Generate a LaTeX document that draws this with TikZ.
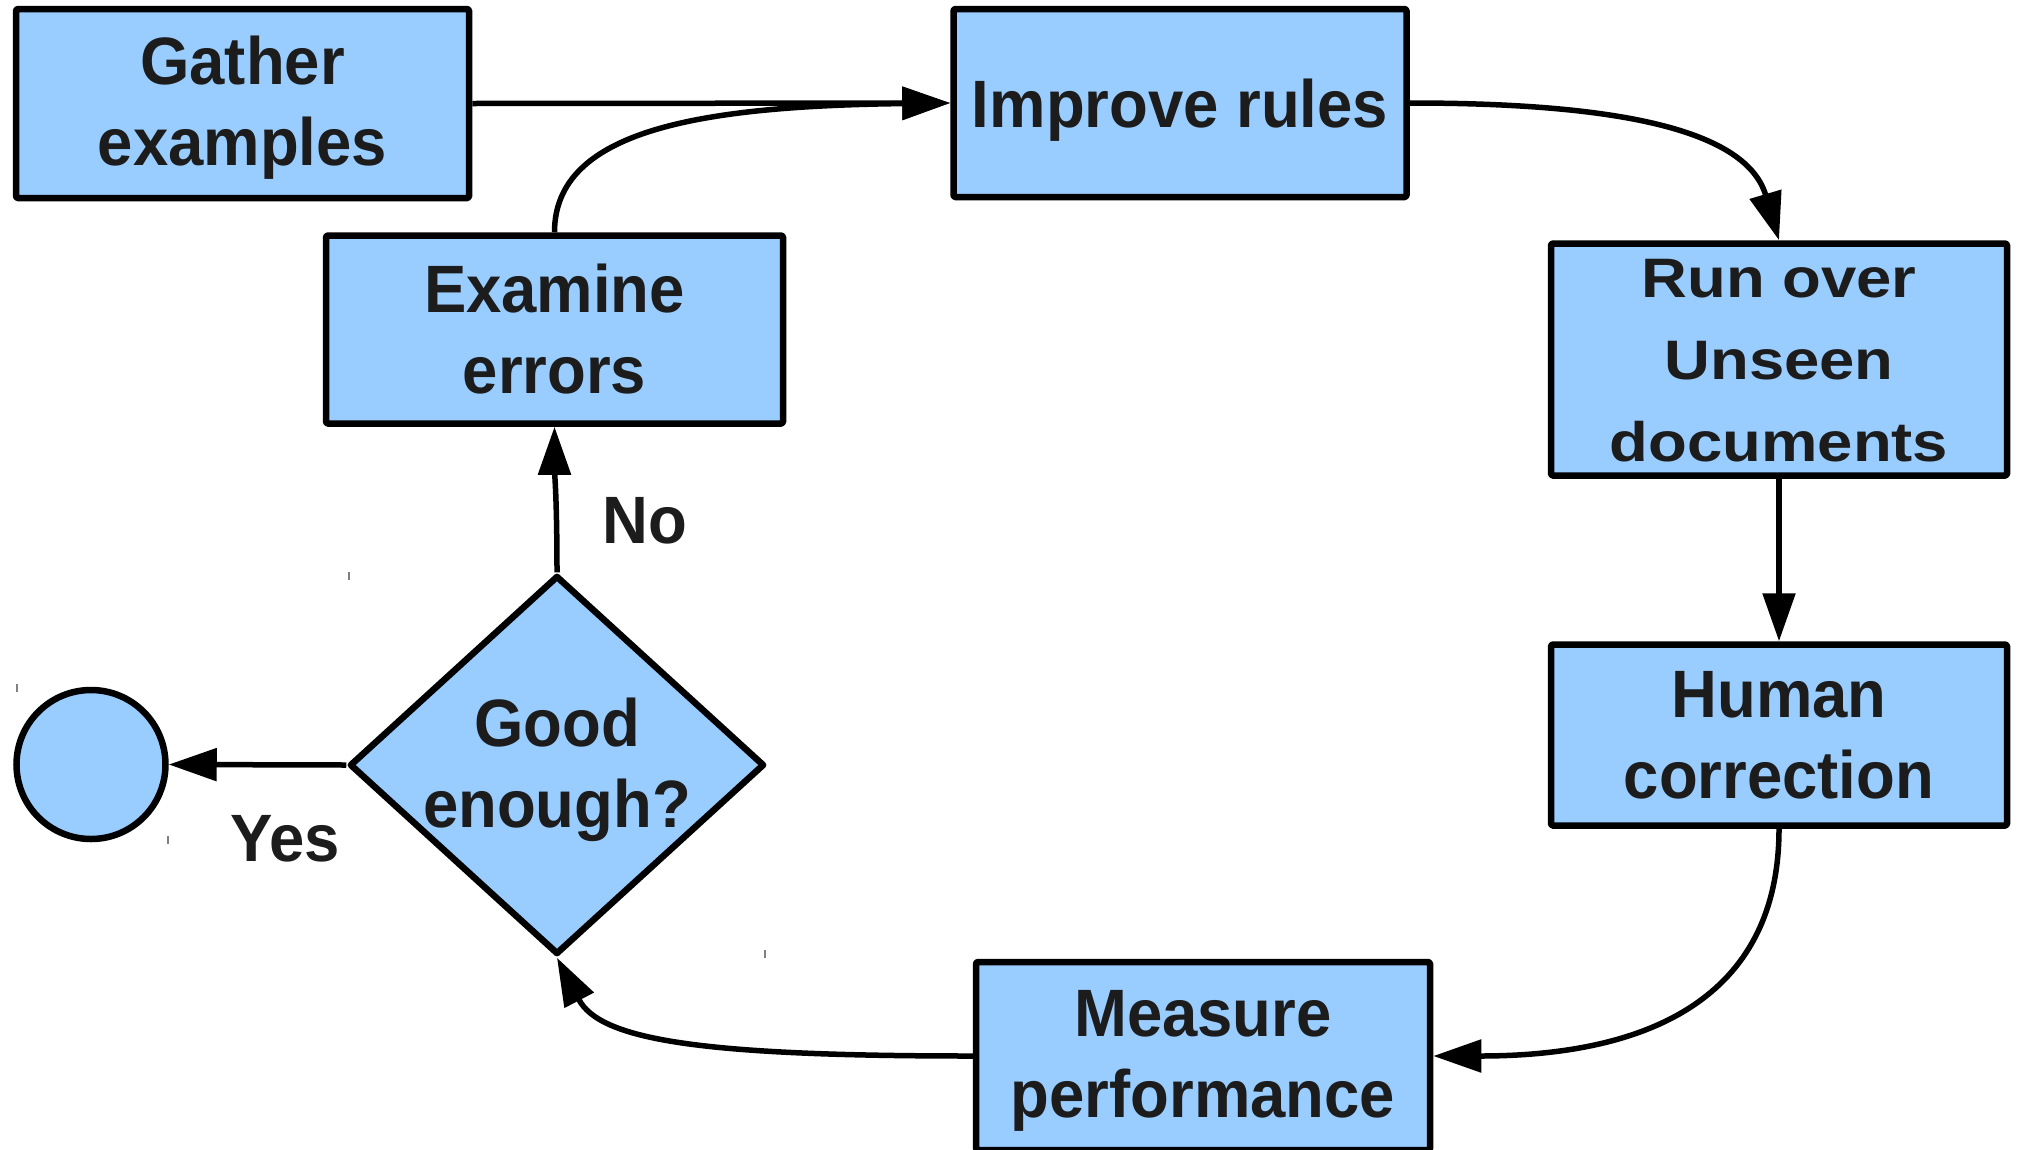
\documentclass[tikz,border=0pt]{standalone}
\usepackage{fontspec}
\setmainfont{Liberation Sans}[FakeStretch=0.947]
\usepackage{graphicx}
\usetikzlibrary{arrows.meta,shapes.geometric}
\definecolor{boxblue}{HTML}{99CCFF}
\definecolor{ink}{HTML}{1C1C1C}
\begin{document}
\begin{tikzpicture}[x=1pt,y=-1pt,
  box/.style={draw=black, fill=boxblue, line width=6.5pt, line join=round,
    rounded corners=1.5pt, rectangle, inner sep=0pt, align=center, text=ink,
    font=\fontsize{67pt}{81pt}\selectfont\bfseries},
  txt/.style={inner sep=0pt, align=center, text=ink,
    font=\fontsize{67pt}{81pt}\selectfont\bfseries},
  conn/.style={line width=5.5pt, line join=round, -{Triangle[length=48pt,width=32pt]}},
  tickmark/.style={draw=gray, line width=1.2pt}
]
\useasboundingbox (0,0) rectangle (2018,1149);

% boxes
\node[box, minimum width=453pt, minimum height=189pt] (gather) at (242.5,103.5) {};
\node[txt] (gathertxt) at (242.5,107.5) {Gather\\examples};
\node[box, minimum width=453pt, minimum height=188pt, text depth=0pt] (improve) at (1180,103) {Improve rules};
\node[box, minimum width=457pt, minimum height=188pt] (examine) at (554.5,329.5) {Examine\\errors};
\node[box, minimum width=456pt, minimum height=232pt] (runover) at (1779,359.5) {};
\node[txt] (runovertxt) at (1779,363) {\scalebox{1}[0.83]{\fontsize{67pt}{99pt}\selectfont\bfseries\begin{tabular}{@{}c@{}}Run over\\Unseen\\documents\end{tabular}}};
\node[box, minimum width=456pt, minimum height=181pt] (human) at (1779,735) {Human\\correction};
\node[box, minimum width=454pt, minimum height=188pt] (measure) at (1203,1056) {};
\node[txt] (measuretxt) at (1203,1061) {Measure\\performance};

% decision diamond
\node[diamond, draw=black, fill=boxblue, line width=6.5pt, line join=round,
      inner sep=0pt, minimum width=415pt, minimum height=379pt] (decision) at (557,765) {};
\node[txt] (decisiontxt) at (557,770) {Good\\enough?};

% end circle
\node[circle, draw=black, fill=boxblue, line width=6.5pt, inner sep=0pt,
      minimum size=149pt] (stop) at (91,764.5) {};

% connectors
\draw[conn] (gather.east) -- (improve.west);
\draw[conn] (examine.north) .. controls (554.5,130) and (700,106) .. (improve.west);
\draw[conn] (improve.east) .. controls (1600,103) and (1745,125) .. (runover.north);
\draw[conn] (runover.south) -- (human.north);
\draw[conn] (human.south) .. controls (1779,990) and (1660,1056) .. (measure.east);
\draw[conn] (measure.west) .. controls (700,1056) and (600,1040) .. (decision.south);
\draw[conn] (decision.north) .. controls (557,500) and (554.5,470) .. (examine.south);
\draw[conn] (decision.west) -- (stop.east);

% labels
\node[txt, anchor=base] (nolbl) at (645,543) {No};
\node[txt, anchor=base] (yeslbl) at (285,861) {Yes};

% small tick marks
\draw[tickmark] (349,572) -- (349,580);
\draw[tickmark] (17,684) -- (17,692);
\draw[tickmark] (168,836) -- (168,844);
\draw[tickmark] (765,950) -- (765,958);
\end{tikzpicture}
\end{document}
